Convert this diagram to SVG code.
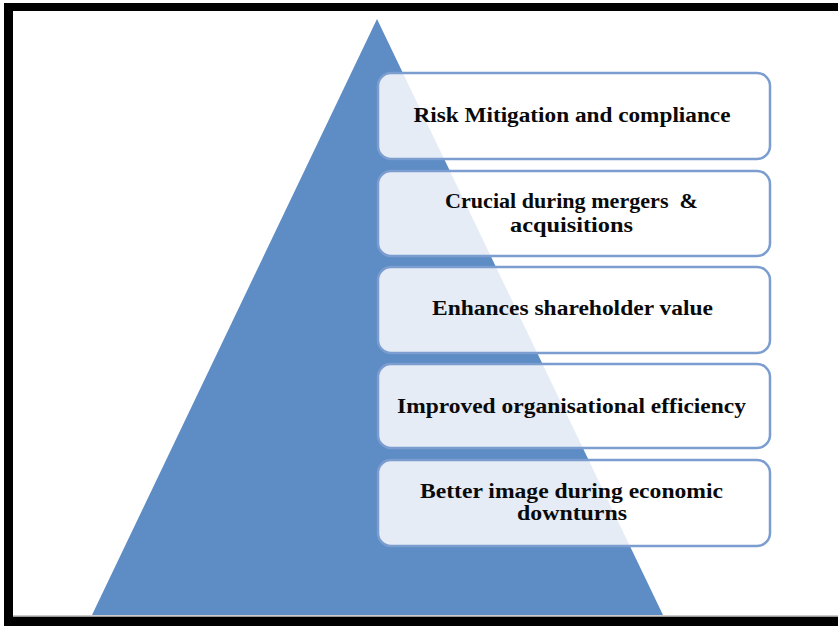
<svg xmlns="http://www.w3.org/2000/svg" width="838" height="626" viewBox="0 0 838 626">
  <style>
    .card { fill: #ffffff; fill-opacity: 0.84; stroke: #7b9dd0; stroke-width: 2.5; }
    .label { font-family: "Liberation Serif", "Times New Roman", serif; font-weight: bold; font-size: 20.5px; fill: #0a0a0a; text-anchor: middle; white-space: pre; }
  </style>
  <!-- page background and frame -->
  <rect x="0" y="0" width="838" height="626" fill="#ffffff"/>
  <rect x="4" y="3" width="834" height="8" fill="#000000"/>
  <rect x="4" y="3" width="9" height="623" fill="#000000"/>
  <rect x="4" y="617" width="834" height="9" fill="#000000"/>
  <rect x="13" y="615.5" width="825" height="1.5" fill="#9a9a9a"/>

  <!-- pyramid -->
  <g id="pyramid">
    <polygon points="377,19 663,615 92,615" fill="#5e8cc5"/>
  </g>

  <g id="connectors"></g>

  <g id="node-risk">
    <rect class="card" x="378" y="73" width="392" height="86" rx="13"/>
    <text class="label" x="572" y="122" textLength="317" lengthAdjust="spacingAndGlyphs">Risk Mitigation and compliance</text>
  </g>
  <g id="node-mergers">
    <rect class="card" x="378" y="171" width="392" height="85" rx="13"/>
    <text class="label" x="571.5" y="208" textLength="253" lengthAdjust="spacingAndGlyphs">Crucial during mergers  &amp;</text>
    <text class="label" x="571.5" y="232" textLength="123" lengthAdjust="spacingAndGlyphs">acquisitions</text>
  </g>
  <g id="node-shareholder">
    <rect class="card" x="378" y="267" width="392" height="86" rx="13"/>
    <text class="label" x="572.5" y="315" textLength="281" lengthAdjust="spacingAndGlyphs">Enhances shareholder value</text>
  </g>
  <g id="node-efficiency">
    <rect class="card" x="378" y="364" width="392" height="84" rx="13"/>
    <text class="label" x="571.5" y="413" textLength="349" lengthAdjust="spacingAndGlyphs">Improved organisational efficiency</text>
  </g>
  <g id="node-image">
    <rect class="card" x="378" y="460" width="392" height="86" rx="13"/>
    <text class="label" x="571.5" y="498" textLength="303" lengthAdjust="spacingAndGlyphs">Better image during economic</text>
    <text class="label" x="572" y="520" textLength="110" lengthAdjust="spacingAndGlyphs">downturns</text>
  </g>
</svg>
